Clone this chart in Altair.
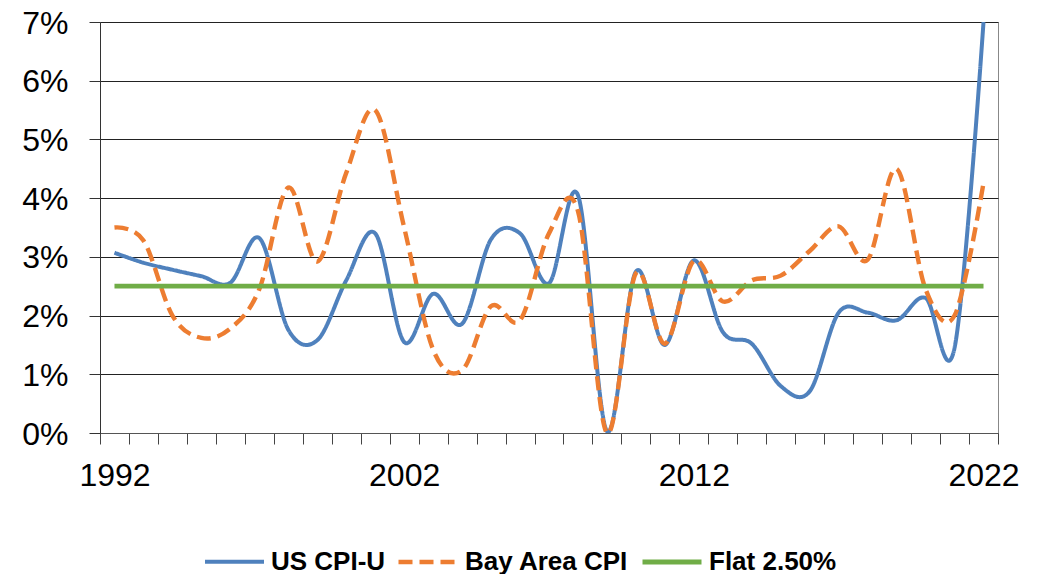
import altair as alt
import pandas as pd

years = [str(y) for y in range(1992, 2023)]

us_cpi = [3.07, 2.90, 2.78, 2.67, 2.56, 3.32, 1.76, 1.58, 2.60, 3.40,
          1.55, 2.37, 1.86, 3.30, 3.40, 2.55, 4.05, 0.03, 2.75, 1.50,
          2.94, 1.72, 1.52, 0.80, 0.71, 2.05, 2.05, 1.92, 2.30, 1.45,
          7.00]

bay_cpi = [3.50, 3.28, 2.00, 1.62, 1.78, 2.45, 4.18, 2.92, 4.43, 5.50,
           3.50, 1.42, 1.07, 2.16, 1.92, 3.40, 3.78, 0.00, 2.72, 1.52,
           2.93, 2.24, 2.60, 2.68, 3.10, 3.52, 2.95, 4.50, 2.45, 2.00,
           4.26]

flat = [2.5, 2.5, 2.5, 2.5, 2.5, 2.5, 2.5, 2.5, 2.5, 2.5,
        2.5, 2.5, 2.5, 2.5, 2.5, 2.5, 2.5, 2.5, 2.5, 2.5,
        2.5, 2.5, 2.5, 2.5, 2.5, 2.5, 2.5, 2.5, 2.5, 2.5,
        2.5]

series_names = ["US CPI-U", "Bay Area CPI", "Flat 2.50%"]
series_colors = ["#4F81BD", "#ED7D31", "#70AD47"]
series_dashes = [[1, 0], [14, 7], [1, 0]]
series_widths = [4, 4.8, 4.2]

y_ticks = [0, 1, 2, 3, 4, 5, 6, 7]
x_labels = ["1992", "2002", "2012", "2022"]

rows = []
for name, vals in zip(series_names, [us_cpi, bay_cpi, flat]):
    for yr, v in zip(years, vals):
        rows.append({"year": yr, "value": v, "series": name})
df = pd.DataFrame(rows)

legend = alt.Legend(
    title=None,
    orient="none",
    legendX=103,
    legendY=508,
    direction="horizontal",
    symbolType="stroke",
    symbolSize=3481,
    symbolStrokeWidth=4.5,
    labelFont="Liberation Sans",
    labelFontSize=26,
    labelFontWeight="bold",
    labelColor="black",
    labelOffset=5,
    labelLimit=400,
    columnPadding=3,
    padding=0,
)

label_list = "[" + ",".join("'" + s + "'" for s in x_labels) + "]"

chart = alt.Chart(df).mark_line(
    interpolate="cardinal", clip=True, strokeCap="butt", strokeJoin="round"
).encode(
    x=alt.X(
        "year:O",
        bandPosition=0.5,
        sort=years,
        scale=alt.Scale(type="band", paddingInner=0, paddingOuter=0),
        axis=alt.Axis(
            title=None,
            tickBand="extent",
            labelAngle=0,
            labelOverlap=False,
            labelExpr="indexof(" + label_list + ", datum.value) >= 0 ? datum.value : ''",
            grid=False,
            tickSize=11,
            labelPadding=16,
            domainColor="#555555",
            tickColor="#444444",
        ),
    ),
    y=alt.Y(
        "value:Q",
        scale=alt.Scale(domain=[0, 7], nice=False),
        axis=alt.Axis(
            title=None,
            values=y_ticks,
            labelExpr="datum.value + '%'",
            grid=True,
            tickSize=11,
            labelPadding=21,
            labelOffset=1,
            domainColor="#333333",
            tickColor="#333333",
        ),
    ),
    color=alt.Color(
        "series:N",
        sort=series_names,
        scale=alt.Scale(domain=series_names, range=series_colors),
        legend=legend,
    ),
    strokeDash=alt.StrokeDash(
        "series:N",
        sort=series_names,
        scale=alt.Scale(domain=series_names, range=series_dashes),
        legend=legend,
    ),
    strokeWidth=alt.StrokeWidth(
        "series:N",
        sort=series_names,
        scale=alt.Scale(domain=series_names, range=series_widths),
        legend=None,
    ),
).properties(
    width=898,
    height=411,
    autosize=alt.AutoSizeParams(type="none"),
    padding={"left": 92, "top": 14, "right": 30, "bottom": 141},
).configure_view(
    stroke="#888888", strokeWidth=1
).configure_axis(
    labelFont="Liberation Sans",
    labelFontSize=32,
    labelColor="black",
    gridColor="#222222",
    gridWidth=1,
)

chart.save("out.html", embed_options={"renderer": "svg", "actions": False})
